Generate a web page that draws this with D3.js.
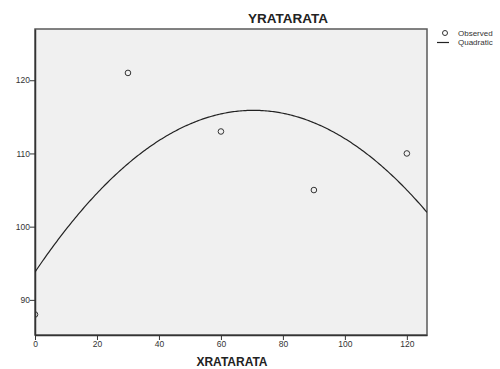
<!DOCTYPE html>
<html>
<head>
<meta charset="utf-8">
<script src="https://cdn.jsdelivr.net/npm/d3@7"></script>
<style>
  body { margin: 0; background: #fff; }
  text { font-family: "Liberation Sans", Arial, sans-serif; }
</style>
</head>
<body>
<script>
// observed data
var xValues = [0, 30, 60, 90, 120];
var yValues = [88, 121, 113, 105, 110];
var xTicks = [0, 20, 40, 60, 80, 100, 120];
var yTicks = [90, 100, 110, 120];
var legendLabels = ["Observed", "Quadratic"];

var w = 500, h = 369;
var margin = {left: 35, top: 29, right: 73, bottom: 34};

var svg = d3.select("body").append("svg")
    .attr("width", w)
    .attr("height", h);

var x = d3.scaleLinear().domain([0, 126.5]).range([margin.left, w - margin.right]);
var y = d3.scaleLinear().domain([85.2, 127]).range([h - margin.bottom, margin.top]);

// quadratic least squares fit y = a + b*x + c*x^2
function quadFit(xs, ys) {
    var n = xs.length, S = [0, 0, 0, 0, 0], T = [0, 0, 0];
    for (var i = 0; i < n; i++) {
        for (var k = 0; k < 5; k++) S[k] += Math.pow(xs[i], k);
        for (var k = 0; k < 3; k++) T[k] += ys[i] * Math.pow(xs[i], k);
    }
    var M = [[S[0], S[1], S[2], T[0]], [S[1], S[2], S[3], T[1]], [S[2], S[3], S[4], T[2]]];
    for (var c = 0; c < 3; c++) {
        for (var r = c + 1; r < 3; r++) {
            var f = M[r][c] / M[c][c];
            for (var j = c; j < 4; j++) M[r][j] -= f * M[c][j];
        }
    }
    var sol = [0, 0, 0];
    for (var r = 2; r >= 0; r--) {
        var s = M[r][3];
        for (var j = r + 1; j < 3; j++) s -= M[r][j] * sol[j];
        sol[r] = s / M[r][r];
    }
    return sol;
}
var coef = quadFit(xValues, yValues);

// plot background
svg.append("rect")
    .attr("x", x.range()[0])
    .attr("y", y.range()[1])
    .attr("width", x.range()[1] - x.range()[0])
    .attr("height", y.range()[0] - y.range()[1])
    .attr("fill", "#f0f0f0")
    .attr("stroke", "#5a5a5a")
    .attr("stroke-width", 1.5);

svg.append("defs").append("clipPath").attr("id", "clip")
    .append("rect")
    .attr("x", x.range()[0])
    .attr("y", y.range()[1])
    .attr("width", x.range()[1] - x.range()[0])
    .attr("height", y.range()[0] - y.range()[1]);

// axes
var xAxis = svg.append("g")
    .attr("transform", "translate(0," + y.range()[0] + ")")
    .call(d3.axisBottom(x).tickValues(xTicks).tickSize(5).tickSizeOuter(0));
var yAxis = svg.append("g")
    .attr("transform", "translate(" + x.range()[0] + ",0)")
    .call(d3.axisLeft(y).tickValues(yTicks).tickSize(5).tickSizeOuter(0));

[xAxis, yAxis].forEach(function (g) {
    g.select(".domain").attr("stroke", "#333").attr("stroke-width", 1.5);
    g.selectAll(".tick line").attr("stroke", "#333");
    g.selectAll(".tick text").attr("fill", "#333").style("font-size", "8.5px")
        .style("font-family", "Liberation Sans, Arial, sans-serif");
});
xAxis.selectAll(".tick text").attr("dy", "0.9em").attr("y", 4);
yAxis.selectAll(".tick text").attr("x", -5);

// fitted curve
var curveX = d3.range(0, 126.5 + 0.01, 0.5);
svg.append("path")
    .datum(curveX)
    .attr("clip-path", "url(#clip)")
    .attr("fill", "none")
    .attr("stroke", "#222")
    .attr("stroke-width", 1.2)
    .attr("d", d3.line()
        .x(function (d) { return x(d); })
        .y(function (d) { return y(coef[0] + coef[1] * d + coef[2] * d * d); }));

// observed points
svg.selectAll("circle.obs")
    .data(xValues)
    .enter()
    .append("circle")
    .attr("class", "obs")
    .attr("clip-path", "url(#clip)")
    .attr("cx", function (d) { return x(d); })
    .attr("cy", function (d, i) { return y(yValues[i]); })
    .attr("r", 2.8)
    .attr("fill", "none")
    .attr("stroke", "#333")
    .attr("stroke-width", 1);

// title and axis label
svg.append("text")
    .attr("x", 288).attr("y", 23)
    .attr("text-anchor", "middle")
    .style("font-size", "13.5px").style("font-weight", "bold")
    .attr("fill", "#222")
    .text("YRATARATA");

svg.append("text")
    .attr("x", 232).attr("y", 366)
    .attr("text-anchor", "middle")
    .style("font-size", "12px").style("font-weight", "bold")
    .attr("fill", "#222")
    .text("XRATARATA");

// legend
var legend = svg.append("g");
legend.append("circle")
    .attr("cx", 445).attr("cy", 33).attr("r", 2.5)
    .attr("fill", "none").attr("stroke", "#333");
legend.append("line")
    .attr("x1", 437).attr("x2", 449).attr("y1", 42.5).attr("y2", 42.5)
    .attr("stroke", "#222").attr("stroke-width", 1.2);
legend.selectAll("text.leg")
    .data(legendLabels)
    .enter()
    .append("text")
    .attr("class", "leg")
    .attr("x", 458)
    .attr("y", function (d, i) { return 36 + i * 9; })
    .style("font-size", "8px")
    .attr("fill", "#333")
    .text(function (d) { return d; });
</script>
</body>
</html>
